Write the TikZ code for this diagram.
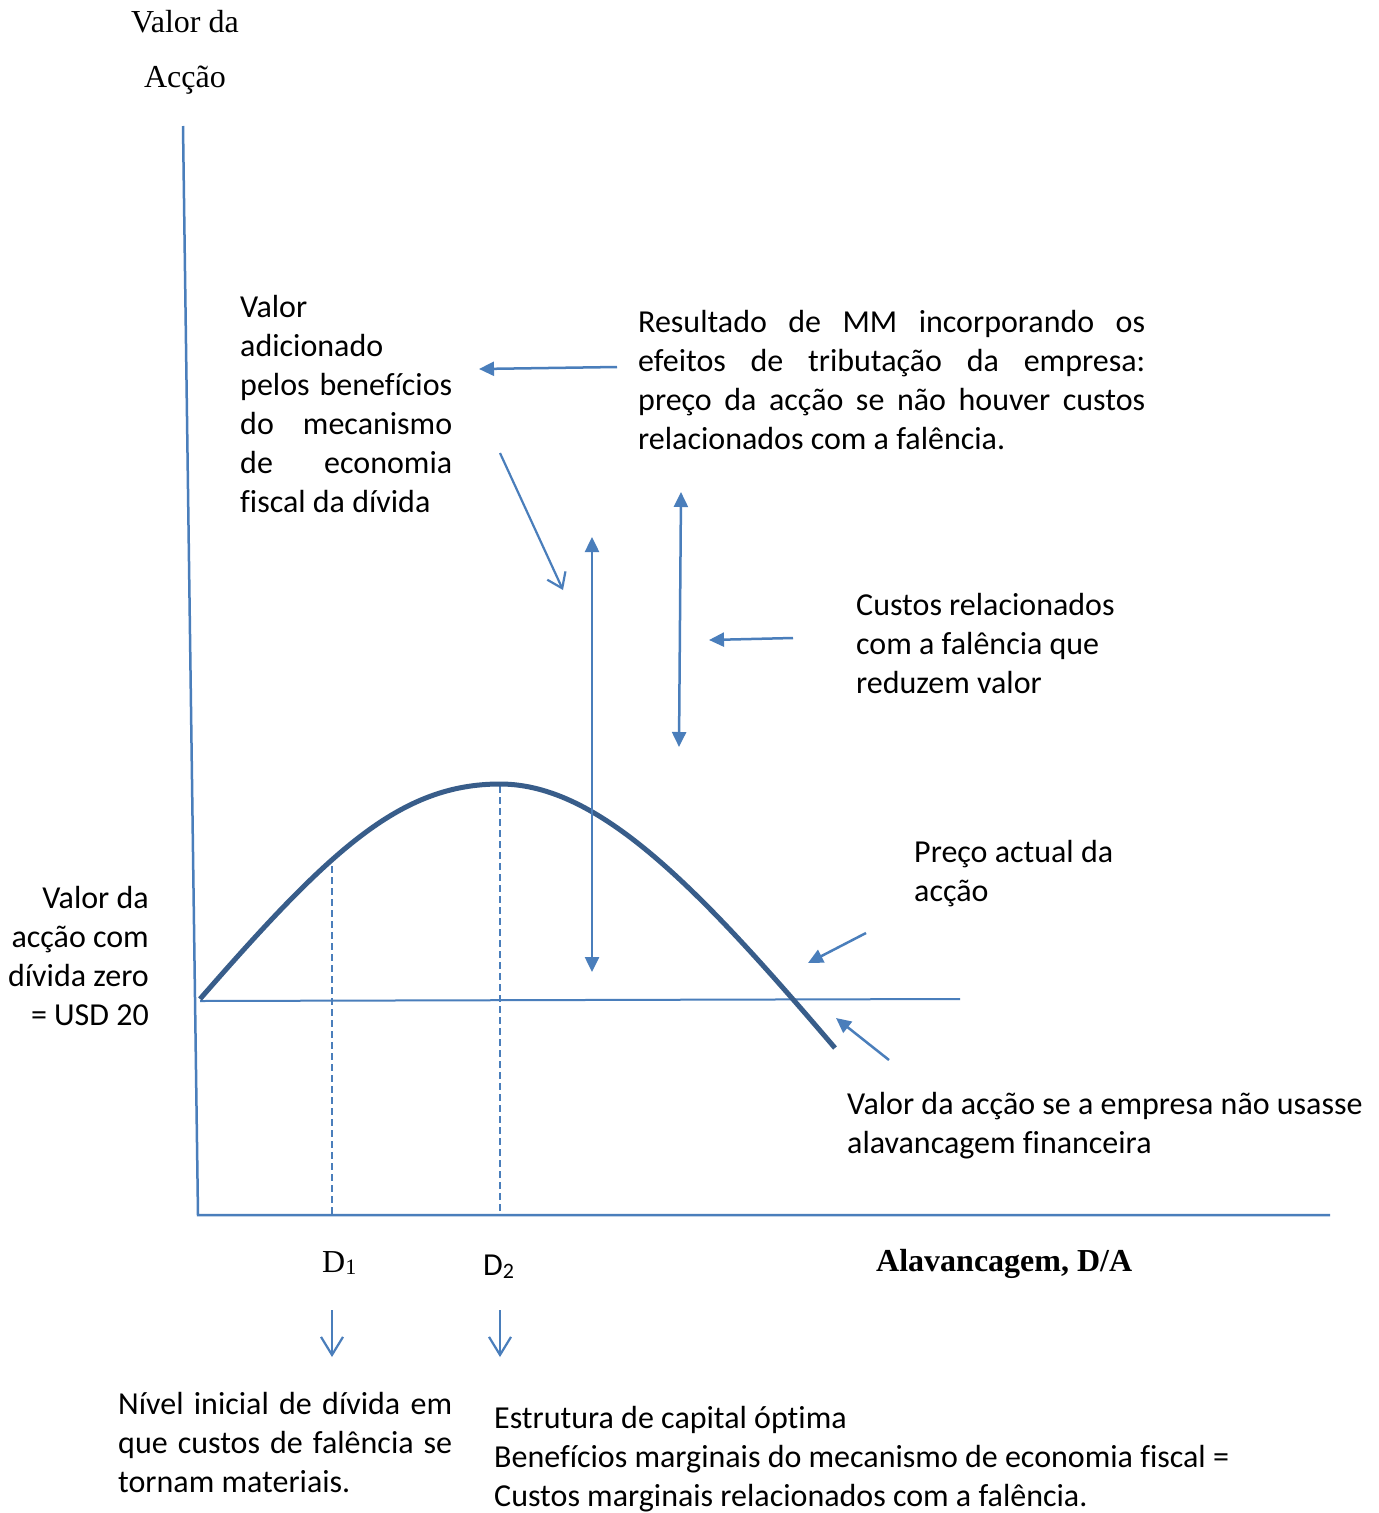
\documentclass[tikz,border=0pt]{standalone}
\usepackage{fontspec}
\setmainfont{Liberation Serif}
\newfontfamily\calib[Ligatures={NoCommon}]{Carlito}
\usetikzlibrary{arrows.meta}
\definecolor{ln}{HTML}{4A7EBB}
\definecolor{cv}{HTML}{385D8A}
\newcommand{\ns}{\spaceskip=0pt\relax\xspaceskip=0pt\relax}
\newcommand{\jl}[2]{{\ns\makebox[#1][s]{#2}}}
\newcommand{\rl}{\hspace*{\fill}}
\newcommand{\calfont}{\calib\fontsize{32}{39}\selectfont\hyphenpenalty=10000\relax\exhyphenpenalty=10000\relax}
\begin{document}
\begin{tikzpicture}[x=1pt,y=-1pt,
  txt/.style={font=\calfont, inner sep=0pt, anchor=base west, align=left},
  tms/.style={font=\fontsize{32}{39}\selectfont, inner sep=0pt},
  ax/.style={draw=ln, line width=2.5pt},
  hl/.style={draw=ln, line width=2pt},
  dsh/.style={draw=ln, line width=2pt, dash pattern=on 7pt off 4pt},
  curve/.style={draw=cv, line width=5pt},
  arr/.style={draw=ln, line width=2.5pt, -{Triangle[length=15pt,width=14pt]}},
  darr/.style={draw=ln, line width=2.5pt, {Triangle[length=15pt,width=14pt]}-{Triangle[length=15pt,width=14pt]}},
  barb/.style={draw=ln, line width=2.2pt, -{Straight Barb[length=14pt,width=20pt]}},
  dbarb/.style={draw=ln, line width=2.2pt, -{Straight Barb[length=18pt,width=22pt]}},
]
\useasboundingbox[fill=white] (0,0) rectangle (1379,1513);

% axis titles
\node[tms, anchor=base] (yl1) at (185,32) {Valor da};
\node[tms, anchor=base] (yl2) at (185,87) {Acção};
\node[tms, anchor=base west, font=\bfseries\fontsize{32}{39}\selectfont] (xl) at (876,1271) {Alavancagem, D/A};
\node[tms, anchor=base west] (d1) at (322,1272) {D\raisebox{-0.15ex}{\fontsize{22}{22}\selectfont 1}};
\node[txt] (d2) at (483,1275) {D\raisebox{-0.2ex}{\fontsize{22}{22}\selectfont 2}};

% text blocks
\node[txt, text width=300pt] (va) at (240,317) {\ns Valor\\adicionado\\\jl{212pt}{pelos benefícios}\\\jl{212pt}{do mecanismo}\\\jl{212pt}{de economia}\\fiscal da dívida};
\node[txt, text width=600pt] (res) at (638,332) {\ns\jl{507pt}{Resultado de MM incorporando os}\\\jl{507pt}{efeitos de tributação da empresa:}\\\jl{507pt}{preço da acção se não houver custos}\\relacionados com a falência.};
\node[txt, text width=200pt, anchor=base east] (v0) at (149,908) {\ns\rl Valor da\\\rl acção com\\\rl dívida zero\\\rl = USD 20};
\node[txt, text width=400pt] (cu) at (856,615) {\ns Custos relacionados\\com a falência que\\reduzem valor};
\node[txt, text width=400pt] (pr) at (914,862) {\ns Preço actual da\\acção};
\node[txt, text width=700pt] (vs) at (847,1114) {\ns Valor da acção se a empresa não usasse\\alavancagem financeira};
\node[txt, text width=500pt] (ni) at (118,1414) {\ns\jl{334pt}{Nível inicial de dívida em}\\\jl{334pt}{que custos de falência se}\\tornam materiais.};
\node[txt, text width=900pt] (es) at (494,1428) {\ns Estrutura de capital óptima\\Benefícios marginais do mecanismo de economia fiscal =\\Custos marginais relacionados com a falência.};

% axes
\coordinate (ytop) at (183,126);
\coordinate (O) at (198,1215);
\coordinate (xend) at (1330,1215);
\draw[ax] (ytop) -- (O) -- (xend);

% horizontal line (value without leverage)
\coordinate (h0) at (200,1001);
\coordinate (h1) at (960,999);
\draw[hl] (h0) -- (h1);

% dashed lines
\coordinate (p1) at (332,866);
\coordinate (p1b) at (332,1215);
\coordinate (p2) at (500,786);
\coordinate (p2b) at (500,1215);
\draw[dsh] (p1) -- (p1b);
\draw[dsh] (p2) -- (p2b);

% actual price curve
\coordinate (c0) at (200,999);
\coordinate (cpk) at (500,784);
\coordinate (c1) at (835,1048);
\draw[curve] (c0) .. controls (330,850) and (400,784) .. (cpk) .. controls (600,784) and (700,890) .. (c1);

% arrows
\coordinate (a1s) at (617,367);  \coordinate (a1e) at (479,369);
\draw[arr] (a1s) -- (a1e);
\coordinate (a2s) at (500,453);  \coordinate (a2e) at (563,590);
\draw[barb] (a2s) -- (a2e);
\coordinate (a3s) at (592,537);  \coordinate (a3e) at (592,972);
\draw[darr] (a3s) -- (a3e);
\coordinate (a4s) at (681,492);  \coordinate (a4e) at (679,747);
\draw[darr] (a4s) -- (a4e);
\coordinate (a5s) at (793,638);  \coordinate (a5e) at (709,640);
\draw[arr] (a5s) -- (a5e);
\coordinate (a6s) at (866,933);  \coordinate (a6e) at (808,963);
\draw[arr] (a6s) -- (a6e);
\coordinate (a7s) at (889,1060); \coordinate (a7e) at (836,1018);
\draw[arr] (a7s) -- (a7e);
\coordinate (b1s) at (332,1310); \coordinate (b1e) at (332,1357);
\draw[dbarb] (b1s) -- (b1e);
\coordinate (b2s) at (500,1310); \coordinate (b2e) at (500,1357);
\draw[dbarb] (b2s) -- (b2e);
\end{tikzpicture}
\end{document}
